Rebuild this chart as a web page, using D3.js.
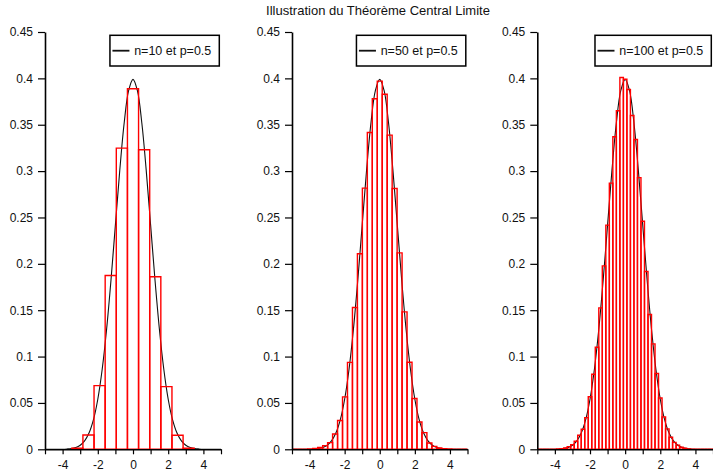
<!DOCTYPE html>
<html>
<head>
<meta charset="utf-8">
<script src="https://cdn.jsdelivr.net/npm/d3@7"></script>
<style>
  body { margin: 0; background: #fff; }
  svg text { font-family: "Liberation Sans", Arial, sans-serif; fill: #111; }
</style>
</head>
<body>
<svg id="chart" width="713" height="474"></svg>
<script>
// binomial sizes, p = 0.5
var nValues = [10, 50, 100];
var legendLabels = ['n=10 et p=0.5', 'n=50 et p=0.5', 'n=100 et p=0.5'];
var titleText = 'Illustration du Th\u00e9or\u00e8me Central Limite';

// histogram heights, first k of each list
var hist10Start = 0;
var hist10 = [0.0012, 0.0155, 0.0687, 0.1874, 0.3248, 0.3888, 0.323, 0.186, 0.0676, 0.0151, 0.0012];
var hist50Start = 11;
var hist50 = [0.0003, 0.001, 0.002, 0.004, 0.0072, 0.0165, 0.031, 0.0565, 0.0937,
  0.1529, 0.2108, 0.2816, 0.3417, 0.378, 0.397, 0.3828, 0.3388, 0.2813, 0.2118,
  0.1482, 0.0939, 0.0547, 0.0295, 0.018, 0.0068, 0.0032, 0.0015, 0.0006, 0.0003];
var hist100Start = 31;
var hist100 = [0.0003, 0.0007, 0.0014, 0.0029, 0.005, 0.0086, 0.0151, 0.0216, 0.0342,
  0.0567, 0.081, 0.110, 0.1525, 0.1978, 0.2417, 0.287, 0.337, 0.365, 0.401,
  0.399, 0.388, 0.360, 0.334, 0.293, 0.246, 0.1917, 0.1453, 0.1137, 0.0817,
  0.0554, 0.035, 0.022, 0.013, 0.0075, 0.0045, 0.0022, 0.0011, 0.0005, 0.0002];

// normal density curve, read at steps of 0.25 from -5 to 5
var curveX = [-5, -4.75, -4.5, -4.25, -4, -3.75, -3.5, -3.25, -3, -2.75, -2.5, -2.25, -2, -1.75, -1.5, -1.25, -1, -0.75, -0.5, -0.25,
  0, 0.25, 0.5, 0.75, 1, 1.25, 1.5, 1.75, 2, 2.25, 2.5, 2.75, 3, 3.25, 3.5, 3.75, 4, 4.25, 4.5, 4.75, 5];
var curveY = [0, 0, 0, 0, 0.0001, 0.0004, 0.0009, 0.002, 0.0044, 0.0091, 0.0175, 0.0317, 0.054, 0.0863, 0.1295, 0.1826, 0.242, 0.3011, 0.3521, 0.3867,
  0.3989, 0.3867, 0.3521, 0.3011, 0.242, 0.1826, 0.1295, 0.0863, 0.054, 0.0317, 0.0175, 0.0091, 0.0044, 0.002, 0.0009, 0.0004, 0.0001, 0, 0, 0, 0];

var xTicks = [-5, -4, -3, -2, -1, 0, 1, 2, 3, 4, 5];
var yTicks = [0, 0.05, 0.1, 0.15, 0.2, 0.25, 0.3, 0.35, 0.4, 0.45];
var yTickLabels = ['0', '0.05', '0.1', '0.15', '0.2', '0.25', '0.3', '0.35', '0.4', '0.45'];

var hists = [[hist10Start, hist10], [hist50Start, hist50], [hist100Start, hist100]];
var panelLeft = [45, 292, 537.3];
var panelRight = [221, 467.5, 713];

var svg = d3.select('#chart');

var y = d3.scaleLinear().domain([0, 0.45]).range([449.3, 32]);

svg.append('text')
  .attr('x', 378)
  .attr('y', 15)
  .attr('text-anchor', 'middle')
  .style('font-size', '13px')
  .text(titleText);

nValues.forEach(function(n, i) {
  var x = d3.scaleLinear().domain([-5, 5]).range([panelLeft[i], panelRight[i]]);
  var g = svg.append('g');
  var sd = Math.sqrt(n * 0.25);
  var start = hists[i][0], vals = hists[i][1];

  g.append('clipPath').attr('id', 'clip' + i)
    .append('rect')
    .attr('x', panelLeft[i]).attr('y', 0)
    .attr('width', panelRight[i] - panelLeft[i]).attr('height', 474);

  // normal curve
  var line = d3.line()
    .x(function(d) { return x(d[0]); })
    .y(function(d) { return y(d[1]); })
    .curve(d3.curveCatmullRom);
  g.append('path')
    .datum(curveX.map(function(v, j) { return [v, curveY[j]]; }))
    .attr('d', line)
    .attr('clip-path', 'url(#clip' + i + ')')
    .style('fill', 'none')
    .style('stroke', '#111')
    .style('stroke-width', 1.1);

  // histogram bars, one per k
  var bins = d3.range(0, n + 1).map(function(k) {
    var h = (k >= start && k < start + vals.length) ? vals[k - start] : 0;
    return { a: (k - 0.5 - n / 2) / sd, b: (k + 0.5 - n / 2) / sd, h: h };
  });
  g.append('g')
    .attr('clip-path', 'url(#clip' + i + ')')
    .selectAll('path')
    .data(bins)
    .enter()
    .append('path')
    .attr('d', function(d) {
      return 'M' + x(d.a) + ',' + y(0) + 'V' + y(d.h) + 'H' + x(d.b) + 'V' + y(0) + 'Z';
    })
    .style('fill', 'none')
    .style('stroke', '#ff0000')
    .style('stroke-width', 1.4);

  // axes
  var ax = g.append('g')
    .attr('transform', 'translate(0,' + y(0) + ')')
    .call(d3.axisBottom(x).tickValues(xTicks).tickSize(5).tickSizeOuter(0).tickPadding(6)
      .tickFormat(function(d) { return d % 2 === 0 ? String(d) : ''; }));
  var ay = g.append('g')
    .attr('transform', 'translate(' + panelLeft[i] + ',0)')
    .call(d3.axisLeft(y).tickValues(yTicks).tickSize(7).tickSizeOuter(0).tickPadding(5)
      .tickFormat(function(d, j) { return yTickLabels[j]; }));
  [ax, ay].forEach(function(a) {
    a.select('.domain').style('stroke', '#000').style('stroke-width', 1.6);
    a.selectAll('.tick line').style('stroke', '#000').style('stroke-width', 1.2);
    a.selectAll('.tick text')
      .style('font-family', '"Liberation Sans", Arial, sans-serif')
      .style('font-size', '12px')
      .style('fill', '#111');
  });

  // legend
  var leg = g.append('g');
  var lt = leg.append('text')
    .attr('y', 55)
    .style('font-size', '12.5px')
    .text(legendLabels[i]);
  var tw = lt.node().getComputedTextLength();
  var boxR = panelRight[i] - 1.7;
  var boxL = boxR - (tw + 8 + 4.7 + 17 + 2.5);
  lt.attr('x', boxR - 8 - tw);
  leg.insert('rect', 'text')
    .attr('x', boxL).attr('y', 35.3)
    .attr('width', boxR - boxL).attr('height', 30.7)
    .style('fill', '#fff')
    .style('stroke', '#000')
    .style('stroke-width', 1.5);
  leg.append('line')
    .attr('x1', boxL + 2.5).attr('x2', boxL + 19.5)
    .attr('y1', 50.7).attr('y2', 50.7)
    .style('stroke', '#111')
    .style('stroke-width', 1.8);
});
</script>
</body>
</html>
